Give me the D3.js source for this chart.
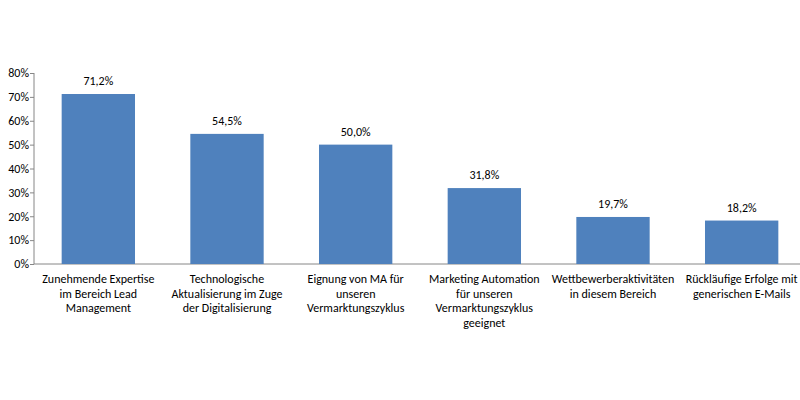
<!DOCTYPE html>
<html><head><meta charset="utf-8">
<script src="https://cdn.jsdelivr.net/npm/d3@7"></script>
<style>body{margin:0;background:#fff}text{font-family:Calibri,Carlito,"Liberation Sans",Arial,sans-serif}</style>
</head><body><svg id="chart" width="800" height="400"></svg>
<script>
// categories (line-broken as in the reference) and values in percent
var categories = [
    ['Zunehmende Expertise', 'im Bereich Lead', 'Management'],
    ['Technologische', 'Aktualisierung im Zuge', 'der Digitalisierung'],
    ['Eignung von MA für', 'unseren', 'Vermarktungszyklus'],
    ['Marketing Automation', 'für unseren', 'Vermarktungszyklus', 'geeignet'],
    ['Wettbewerberaktivitäten', 'in diesem Bereich'],
    ['Rückläufige Erfolge mit', 'generischen E-Mails']
];
var values = [71.2, 54.5, 50.0, 31.8, 19.7, 18.2];
var yTicks = [0, 10, 20, 30, 40, 50, 60, 70, 80];

var svg = d3.select('#chart');
var plotLeft = 34, plotRight = 806, plotTop = 73, plotBottom = 264;

var x = d3.scaleBand().domain(d3.range(values.length)).range([plotLeft, plotRight]).paddingInner(0.43).paddingOuter(0.215);
var y = d3.scaleLinear().domain([0, 80]).range([plotBottom, plotTop]);

// y axis
var yAxis = svg.append('g').attr('transform', 'translate(' + plotLeft + ',0)')
    .call(d3.axisLeft(y).tickValues(yTicks).tickSize(4).tickFormat(function (d) { return d + '%'; }));
yAxis.selectAll('path,line').attr('stroke', '#868686');
yAxis.selectAll('text').attr('font-size', 12).attr('fill', '#000').attr('dx', 2);
yAxis.select('.domain').attr('d', 'M0,' + plotTop + 'V' + plotBottom);

// x axis line
svg.append('line').attr('x1', plotLeft).attr('x2', plotRight).attr('y1', plotBottom).attr('y2', plotBottom).attr('stroke', '#868686');

// bars
svg.selectAll('rect.bar').data(values).enter().append('rect')
    .attr('x', function (d, i) { return x(i); })
    .attr('y', function (d) { return y(d); })
    .attr('width', x.bandwidth())
    .attr('height', function (d) { return plotBottom - y(d); })
    .attr('fill', '#4f81bd');

// value labels
svg.selectAll('text.val').data(values).enter().append('text')
    .attr('x', function (d, i) { return x(i) + x.bandwidth() / 2; })
    .attr('y', function (d) { return y(d) - 9; })
    .attr('text-anchor', 'middle').attr('font-size', 12)
    .text(function (d) { return d.toFixed(1).replace('.', ',') + '%'; });

// category labels
categories.forEach(function (lines, i) {
    var t = svg.append('text').attr('text-anchor', 'middle').attr('font-size', 12)
        .attr('x', x(i) + x.bandwidth() / 2).attr('y', 283);
    lines.forEach(function (l, j) {
        t.append('tspan').attr('x', x(i) + x.bandwidth() / 2).attr('dy', j ? 14.5 : 0).text(l);
    });
});
</script></body></html>
